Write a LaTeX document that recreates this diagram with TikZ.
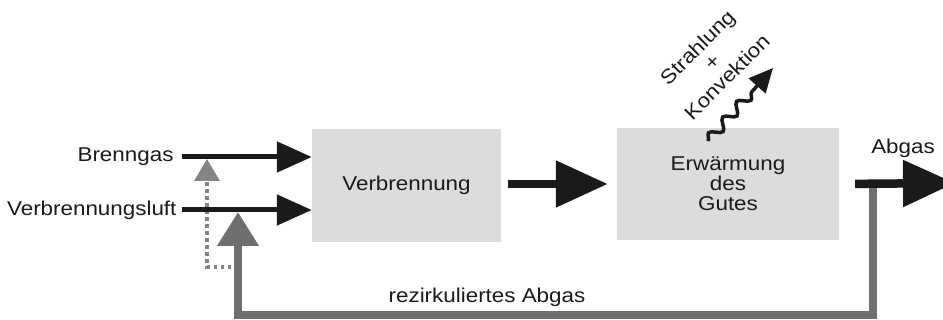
\documentclass[tikz,border=0pt]{standalone}
\usepackage{fontspec}
\setmainfont[FakeStretch=1.12]{Liberation Sans}
\usetikzlibrary{arrows.meta,decorations.pathmorphing}
\definecolor{boxgray}{HTML}{DCDCDC}
\definecolor{ink}{HTML}{1A1A1A}
\definecolor{recgray}{HTML}{6E6E6E}
\definecolor{dotgray}{HTML}{858585}

\begin{document}
\begin{tikzpicture}[x=1pt, y=-1pt,
    every node/.style={font=\fontsize{20}{20}\selectfont, text=ink},
    stage/.style={fill=boxgray, align=center, inner sep=0pt},
    feed/.style={ink, line width=5pt, -{Triangle[length=35pt, width=30pt]}},
    flow/.style={ink, line width=8.5pt, -{Triangle[length=52pt, width=45pt]}},
    recyc/.style={recgray, line width=7.5pt, line join=miter, -{Triangle[length=34pt, width=40pt]}},
    recdot/.style={dotgray, line width=3.5pt, dash pattern=on 3.5pt off 3.5pt, -{Triangle[length=22pt, width=25pt]}},
    wave/.style={ink, line width=3.5pt, -{Triangle[length=24pt, width=22pt]},
      decorate, decoration={snake, amplitude=5pt, segment length=21pt, post length=22pt}}]
    \useasboundingbox (0,0) rectangle (943,320);

    % Stufen
    \node[stage, minimum width=189pt, minimum height=113pt] (verb) at (406.5,185.5) {Verbrennung};
    \node[stage, minimum width=222pt, minimum height=112pt] (erw) at (728,184) {Erwärmung\\des\\Gutes};

    % Eingänge
    \node[anchor=east] (brenn) at (177,157) {Brenngas};
    \node[anchor=east] (luft) at (180,210) {Verbrennungsluft};
    \coordinate (brennin) at (182,157);
    \coordinate (luftin) at (182,210);

    % Rückführung
    \coordinate (abzweig) at (873,183);
    \coordinate (rueck) at (238,315);
    \coordinate (knick) at (238,267);
    \draw[recdot] (knick) -| (207,159);
    \draw[recyc] (abzweig) |- (rueck) -- (238,212);
    \node (rezi) at (487,297) {rezirkuliertes Abgas};

    \draw[feed] (brennin) -- (verb.west |- brennin);
    \draw[feed] (luftin) -- (verb.west |- luftin);
    \draw[flow, shorten <=7pt, shorten >=9pt] (verb.east |- erw.west) -- (erw.west);
    \draw[flow, shorten <=16pt] (erw.east) -- (955,183);
    \node (abgas) at (903,148) {Abgas};

    % Strahlung
    \draw[wave] (708,141) -- (773,68);
    \node[rotate=45, align=center, font=\fontsize{20}{21}\selectfont] (strahl) at (712,62) {Strahlung\\+\\Konvektion};
\end{tikzpicture}
\end{document}
